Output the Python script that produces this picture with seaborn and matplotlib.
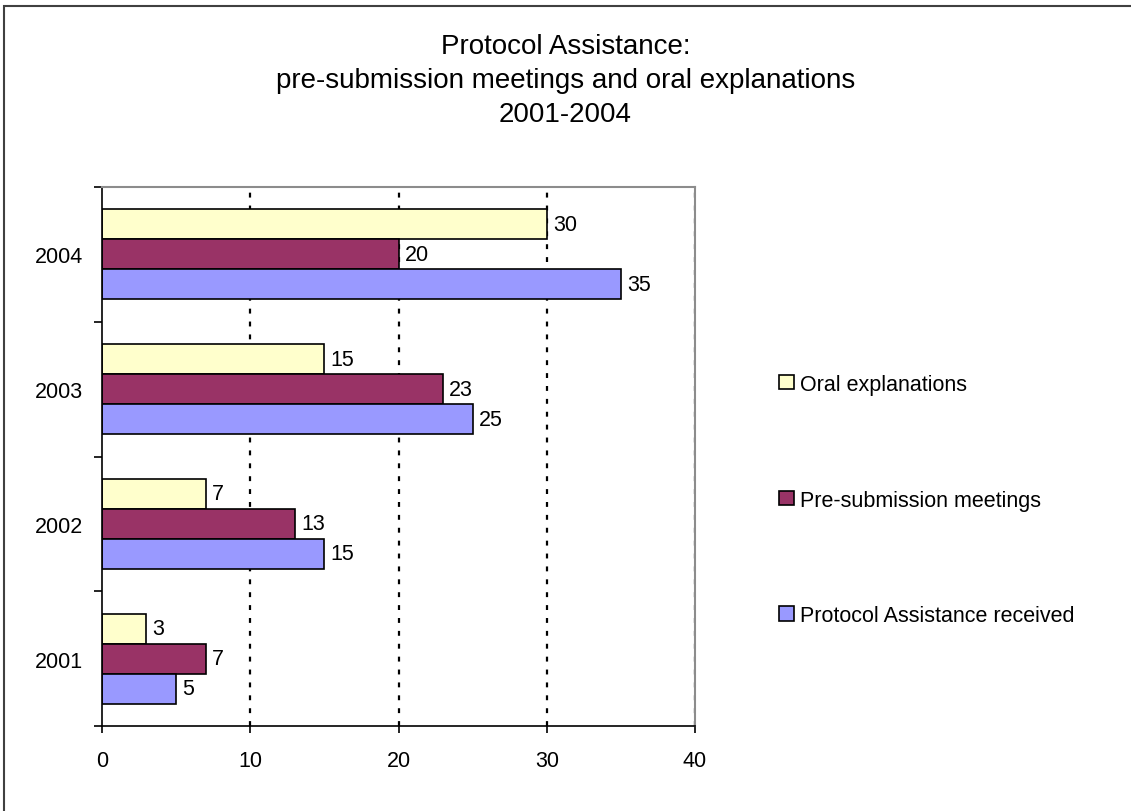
import matplotlib
matplotlib.use("Agg")
import matplotlib.pyplot as plt
import seaborn as sns
import pandas as pd
from matplotlib.patches import Rectangle
from matplotlib.ticker import FixedLocator

# Data
years = ["2004", "2003", "2002", "2001"]
oral_explanations = [30, 15, 7, 3]
presubmission_meetings = [20, 23, 13, 7]
assistance_received = [35, 25, 15, 5]
series = ["Oral explanations", "Pre-submission meetings", "Protocol Assistance received"]
colors = ["#FFFFCC", "#993366", "#9999FF"]
x_ticks = [0, 10, 20, 30, 40]

sns.set_theme(style="white")
plt.rcParams["font.family"] = ["Liberation Sans", "DejaVu Sans"]
plt.rcParams["text.color"] = "black"
plt.rcParams["xtick.color"] = "black"
plt.rcParams["ytick.color"] = "black"
plt.rcParams["xtick.labelcolor"] = "black"
plt.rcParams["ytick.labelcolor"] = "black"

FS = 15.5

rows = []
for name, vals in zip(series, [oral_explanations, presubmission_meetings, assistance_received]):
    for yr, v in zip(years, vals):
        rows.append({"year": yr, "series": name, "value": v})
df = pd.DataFrame(rows)

fig = plt.figure(figsize=(11.31, 8.12), dpi=100)
ax = fig.add_axes([102 / 1131, 1 - 727 / 812, (695 - 102) / 1131, (727 - 188) / 812])

sns.barplot(
    data=df, x="value", y="year", hue="series",
    order=years, hue_order=series, palette=colors,
    orient="h", width=0.667, gap=0, saturation=1,
    edgecolor="black", linewidth=1.2, errorbar=None, ax=ax,
)

ax.set_xlim(0, 40)
ax.set_ylim(3.5, -0.5)

# Dotted vertical gridlines
for xv in x_ticks[1:]:
    ax.axvline(xv, color="black", linestyle=(0, (2.2, 3.6)), lw=1.6, zorder=0.5)

# Value labels
for cont in ax.containers:
    ax.bar_label(cont, fmt="%g", padding=4.5, fontsize=FS, color="black")

# Spines
for side in ["left", "bottom"]:
    ax.spines[side].set_color("black")
    ax.spines[side].set_linewidth(1.2)
for side in ["top", "right"]:
    ax.spines[side].set_color("#8c8c8c")
    ax.spines[side].set_linewidth(1.5)

# Ticks
ax.set_xticks(x_ticks)
ax.tick_params(axis="x", which="major", direction="out", length=5, width=1.2,
               color="black", labelsize=FS, pad=12, bottom=True)
ax.set_yticks(range(len(years)))
ax.set_yticklabels(years)
ax.tick_params(axis="y", which="major", length=0, labelsize=FS, pad=13.5)
ax.yaxis.set_minor_locator(FixedLocator([-0.5, 0.5, 1.5, 2.5, 3.5]))
ax.tick_params(axis="y", which="minor", direction="out", length=6, width=1.2,
               color="black", left=True)
ax.set_xlabel("")
ax.set_ylabel("")

# Legend
handles, labels = ax.get_legend_handles_labels()
leg = ax.legend(
    handles, labels, loc="center left",
    bbox_to_anchor=(760 / 1131, 1 - 501 / 812), bbox_transform=fig.transFigure,
    frameon=False, fontsize=FS, labelspacing=4.4,
    handlelength=0.66, handleheight=0.66, handletextpad=0.3,
)
for t in leg.get_texts():
    t.set_color("black")

# Title
fig.text(0.5, 1 - 34 / 812,
         "Protocol Assistance:\npre-submission meetings and oral explanations\n2001-2004",
         ha="center", va="top", fontsize=20, linespacing=1.4, color="black")

# Chart border
fig.patches.append(Rectangle((4 / 1131, -0.1), 1.2, 1.1 - 7 / 812,
                             transform=fig.transFigure, fill=False,
                             edgecolor="#404040", lw=1.5))

fig.savefig("out.png", dpi=100)
